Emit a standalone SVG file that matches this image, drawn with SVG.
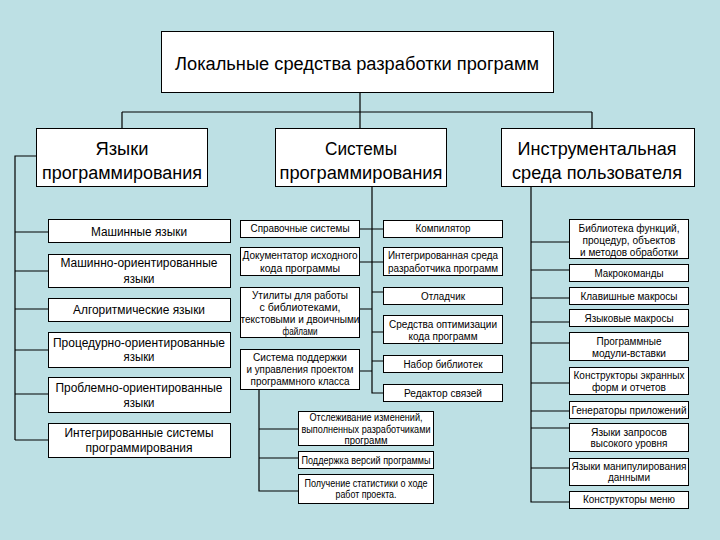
<svg xmlns="http://www.w3.org/2000/svg" width="720" height="540" viewBox="0 0 720 540">
<style>
.bg{fill:#bde0e4}
.box{fill:#ffffff;stroke:#000000;stroke-width:1}
.ln{fill:none;stroke:#000000;stroke-width:1.2}
text{font-family:"Liberation Sans",Arial,sans-serif;fill:#000000;text-anchor:middle}
.t1{font-size:18px}
.t2{font-size:18px}
.t3{font-size:12px}
.t4{font-size:10px}
</style>
<rect class="bg" x="0" y="0" width="720" height="540"/>
<g id="connectors">
<path class="ln" d="M360,92.5V112M122,112H592M122,112V128M360,112V128M592,112V128"/>
<path class="ln" d="M36,156H15V440M15,232H48M15,271H48M15,309H48M15,350H48M15,394H48M15,440H48"/>
<path class="ln" d="M372,186V393H383M359,229H383M359,262H383M359,309H372M359,371H372M372,292H383M372,332H383M372,361H383"/>
<path class="ln" d="M259,389V491H298M259,429H298M259,458H298"/>
<path class="ln" d="M531,186V502H569M531,242H569M531,270H569M531,298H569M531,322H569M531,343H569M531,383H569M531,411H569M531,428H569M531,468H569"/>
</g>
<g id="root">
<rect class="box" x="161.5" y="31.5" width="392" height="61"/>
<text class="t1" x="357" y="69.5" textLength="364" lengthAdjust="spacingAndGlyphs">Локальные средства разработки программ</text>
</g>
<g id="lang">
<rect class="box" x="36.5" y="128.5" width="171" height="58"/>
<text class="t2" x="122" y="154.5" textLength="53" lengthAdjust="spacingAndGlyphs">Языки</text>
<text class="t2" x="122" y="178.5" textLength="160" lengthAdjust="spacingAndGlyphs">программирования</text>
</g>
<g id="sys">
<rect class="box" x="275.5" y="128.5" width="171" height="58"/>
<text class="t2" x="361" y="154.5" textLength="72" lengthAdjust="spacingAndGlyphs">Системы</text>
<text class="t2" x="361" y="178.5" textLength="163" lengthAdjust="spacingAndGlyphs">программирования</text>
</g>
<g id="env">
<rect class="box" x="501.5" y="128.5" width="193" height="58"/>
<text class="t2" x="597" y="154.5" textLength="159" lengthAdjust="spacingAndGlyphs">Инструментальная</text>
<text class="t2" x="597" y="178.5" textLength="170" lengthAdjust="spacingAndGlyphs">среда пользователя</text>
</g>
<g id="l1"><rect class="box" x="48.5" y="219.5" width="182" height="23"/>
<text class="t3" x="139" y="236" textLength="96" lengthAdjust="spacingAndGlyphs">Машинные языки</text></g>
<g id="l2"><rect class="box" x="48.5" y="254.5" width="182" height="33"/>
<text class="t3" x="139" y="267" textLength="157" lengthAdjust="spacingAndGlyphs">Машинно-ориентированные</text>
<text class="t3" x="139" y="283" textLength="31" lengthAdjust="spacingAndGlyphs">языки</text></g>
<g id="l3"><rect class="box" x="48.5" y="298.5" width="182" height="23"/>
<text class="t3" x="139" y="314" textLength="132" lengthAdjust="spacingAndGlyphs">Алгоритмические языки</text></g>
<g id="l4"><rect class="box" x="48.5" y="332.5" width="182" height="35"/>
<text class="t3" x="139" y="347" textLength="172" lengthAdjust="spacingAndGlyphs">Процедурно-ориентированные</text>
<text class="t3" x="139" y="361" textLength="31" lengthAdjust="spacingAndGlyphs">языки</text></g>
<g id="l5"><rect class="box" x="48.5" y="377.5" width="182" height="35"/>
<text class="t3" x="139" y="392" textLength="167" lengthAdjust="spacingAndGlyphs">Проблемно-ориентированные</text>
<text class="t3" x="139" y="407" textLength="31" lengthAdjust="spacingAndGlyphs">языки</text></g>
<g id="l6"><rect class="box" x="48.5" y="423.5" width="182" height="34"/>
<text class="t3" x="139" y="437" textLength="149" lengthAdjust="spacingAndGlyphs">Интегрированные системы</text>
<text class="t3" x="139" y="452" textLength="107" lengthAdjust="spacingAndGlyphs">программирования</text></g>
<g id="m1"><rect class="box" x="240.5" y="220.5" width="119" height="17"/>
<text class="t4" x="300" y="232" textLength="99" lengthAdjust="spacingAndGlyphs">Справочные системы</text></g>
<g id="m2"><rect class="box" x="240.5" y="247.5" width="119" height="28"/>
<text class="t4" x="300" y="258.5" textLength="115" lengthAdjust="spacingAndGlyphs">Документатор исходного</text>
<text class="t4" x="300" y="271.5" textLength="80" lengthAdjust="spacingAndGlyphs">кода программы</text></g>
<g id="m3"><rect class="box" x="240.5" y="287.5" width="119" height="50"/>
<text class="t4" x="300" y="298.5" textLength="96" lengthAdjust="spacingAndGlyphs">Утилиты для работы</text>
<text class="t4" x="300" y="310.5" textLength="81" lengthAdjust="spacingAndGlyphs">с библиотеками,</text>
<text class="t4" x="300" y="322.5" textLength="119" lengthAdjust="spacingAndGlyphs">текстовыми и двоичными</text>
<text class="t4" x="300" y="334.5" textLength="35" lengthAdjust="spacingAndGlyphs">файлами</text></g>
<g id="m4"><rect class="box" x="240.5" y="349.5" width="119" height="40"/>
<text class="t4" x="300" y="360.5" textLength="94" lengthAdjust="spacingAndGlyphs">Система поддержки</text>
<text class="t4" x="300" y="372.5" textLength="107" lengthAdjust="spacingAndGlyphs">и управления проектом</text>
<text class="t4" x="300" y="384.5" textLength="99" lengthAdjust="spacingAndGlyphs">программного класса</text></g>
<g id="c1"><rect class="box" x="383.5" y="220.5" width="119" height="17"/>
<text class="t4" x="443" y="232" textLength="55" lengthAdjust="spacingAndGlyphs">Компилятор</text></g>
<g id="c2"><rect class="box" x="383.5" y="247.5" width="119" height="28"/>
<text class="t4" x="443" y="258.5" textLength="110" lengthAdjust="spacingAndGlyphs">Интегрированная среда</text>
<text class="t4" x="443" y="271.5" textLength="110" lengthAdjust="spacingAndGlyphs">разработчика программ</text></g>
<g id="c3"><rect class="box" x="383.5" y="287.5" width="119" height="17"/>
<text class="t4" x="443" y="299.5" textLength="44" lengthAdjust="spacingAndGlyphs">Отладчик</text></g>
<g id="c4"><rect class="box" x="383.5" y="315.5" width="119" height="28"/>
<text class="t4" x="443" y="327.5" textLength="108" lengthAdjust="spacingAndGlyphs">Средства оптимизации</text>
<text class="t4" x="443" y="340" textLength="69" lengthAdjust="spacingAndGlyphs">кода программ</text></g>
<g id="c5"><rect class="box" x="383.5" y="355.5" width="119" height="17"/>
<text class="t4" x="443" y="367.5" textLength="79" lengthAdjust="spacingAndGlyphs">Набор библиотек</text></g>
<g id="c6"><rect class="box" x="383.5" y="384.5" width="119" height="17"/>
<text class="t4" x="443" y="396.5" textLength="78" lengthAdjust="spacingAndGlyphs">Редактор связей</text></g>
<g id="s1"><rect class="box" x="298.5" y="411.5" width="135" height="34"/>
<text class="t4" x="366" y="420.5" textLength="113" lengthAdjust="spacingAndGlyphs">Отслеживание изменений,</text>
<text class="t4" x="366" y="432.5" textLength="129" lengthAdjust="spacingAndGlyphs">выполненных разработчиками</text>
<text class="t4" x="366" y="444" textLength="43" lengthAdjust="spacingAndGlyphs">программ</text></g>
<g id="s2"><rect class="box" x="298.5" y="451.5" width="135" height="17"/>
<text class="t4" x="366" y="463.5" textLength="129" lengthAdjust="spacingAndGlyphs">Поддержка версий программы</text></g>
<g id="s3"><rect class="box" x="298.5" y="474.5" width="135" height="29"/>
<text class="t4" x="366" y="486.5" textLength="123" lengthAdjust="spacingAndGlyphs">Получение статистики о ходе</text>
<text class="t4" x="366" y="497.5" textLength="61" lengthAdjust="spacingAndGlyphs">работ проекта.</text></g>
<g id="r1"><rect class="box" x="569.5" y="219.5" width="119" height="39"/>
<text class="t4" x="629" y="231.5" textLength="101" lengthAdjust="spacingAndGlyphs">Библиотека функций,</text>
<text class="t4" x="629" y="243.5" textLength="93" lengthAdjust="spacingAndGlyphs">процедур, объектов</text>
<text class="t4" x="629" y="255.5" textLength="98" lengthAdjust="spacingAndGlyphs">и методов обработки</text></g>
<g id="r2"><rect class="box" x="569.5" y="264.5" width="119" height="17"/>
<text class="t4" x="629" y="276.5" textLength="69" lengthAdjust="spacingAndGlyphs">Макрокоманды</text></g>
<g id="r3"><rect class="box" x="569.5" y="287.5" width="119" height="17"/>
<text class="t4" x="629" y="299.5" textLength="97" lengthAdjust="spacingAndGlyphs">Клавишные макросы</text></g>
<g id="r4"><rect class="box" x="569.5" y="309.5" width="119" height="17"/>
<text class="t4" x="629" y="321.5" textLength="89" lengthAdjust="spacingAndGlyphs">Языковые макросы</text></g>
<g id="r5"><rect class="box" x="569.5" y="332.5" width="119" height="28"/>
<text class="t4" x="629" y="344.5" textLength="65" lengthAdjust="spacingAndGlyphs">Программные</text>
<text class="t4" x="629" y="356.5" textLength="74" lengthAdjust="spacingAndGlyphs">модули-вставки</text></g>
<g id="r6"><rect class="box" x="569.5" y="367.5" width="119" height="27"/>
<text class="t4" x="629" y="378.5" textLength="111" lengthAdjust="spacingAndGlyphs">Конструкторы экранных</text>
<text class="t4" x="629" y="390.5" textLength="74" lengthAdjust="spacingAndGlyphs">форм и отчетов</text></g>
<g id="r7"><rect class="box" x="569.5" y="401.5" width="119" height="17"/>
<text class="t4" x="629" y="413.5" textLength="115" lengthAdjust="spacingAndGlyphs">Генераторы приложений</text></g>
<g id="r8"><rect class="box" x="569.5" y="423.5" width="119" height="28"/>
<text class="t4" x="629" y="435.5" textLength="76" lengthAdjust="spacingAndGlyphs">Языки запросов</text>
<text class="t4" x="629" y="447" textLength="77" lengthAdjust="spacingAndGlyphs">высокого уровня</text></g>
<g id="r9"><rect class="box" x="569.5" y="458.5" width="119" height="27"/>
<text class="t4" x="629" y="469.5" textLength="115" lengthAdjust="spacingAndGlyphs">Языки манипулирования</text>
<text class="t4" x="629" y="481" textLength="42" lengthAdjust="spacingAndGlyphs">данными</text></g>
<g id="r10"><rect class="box" x="569.5" y="491.5" width="119" height="17"/>
<text class="t4" x="629" y="503" textLength="92" lengthAdjust="spacingAndGlyphs">Конструкторы меню</text></g>
</svg>
